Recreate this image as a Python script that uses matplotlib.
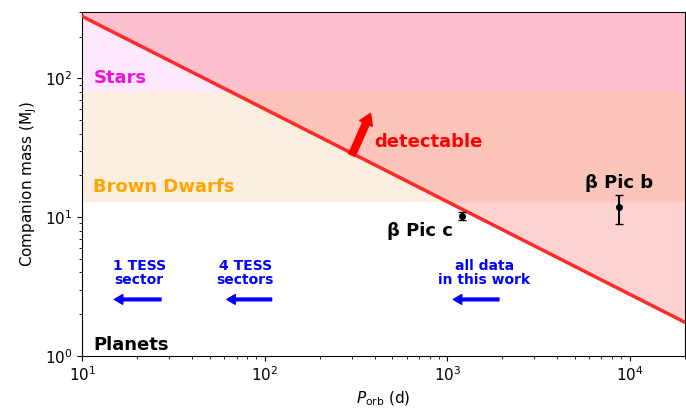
import numpy as np
import matplotlib
matplotlib.use("Agg")
import matplotlib.pyplot as plt

# detection limit line endpoints
lim_p = [10, 2e4]
lim_m = [280, 1.75]

# companions
names = ["β Pic c", "β Pic b"]
per = [1200, 8700]
mass = [10.2, 11.8]
m_lo = [0.7, 2.9]
m_hi = [0.7, 2.7]

# sensitivity arrows (start, end)
arr_labels = ["1 TESS\nsector", "4 TESS\nsectors", "all data\nin this work"]
arr_start = [27, 109, 1920]
arr_end = [15, 62, 1080]
arr_x_txt = [20.5, 78, 1600]

fig, ax = plt.subplots(figsize=(6.86, 4.09), dpi=100)
ax.set_xscale("log")
ax.set_yscale("log")
ax.set_xlim(10, 2e4)
ax.set_ylim(1, 300)

ax.axhspan(80, 300, color="#fde8fc", zorder=0)
ax.axhspan(13, 80, color="#fdefe0", zorder=0)

xx = np.array(lim_p)
ax.plot(xx, lim_m, color="#ff2a2a", lw=2.5, zorder=3)
ax.fill_between(xx, lim_m, [300, 300], color="#ff3333", alpha=0.22, lw=0, zorder=1)

ax.text(11.5, 100, "Stars", color="#ee11dd", fontsize=13, fontweight="bold", va="center")
ax.text(11.5, 16.5, "Brown Dwarfs", color="#ffa500", fontsize=13, fontweight="bold", va="center")
ax.text(11.5, 1.2, "Planets", color="black", fontsize=13, fontweight="bold", va="center")

ax.annotate("", xy=(380, 56), xytext=(300, 28),
            arrowprops=dict(color="#ff0000", width=5, headwidth=10, headlength=8), zorder=4)
ax.text(400, 35, "detectable", color="#ff0000", fontsize=13, fontweight="bold", va="center")

ax.errorbar(per, mass, yerr=[m_lo, m_hi], fmt="o", color="black", ms=4, capsize=3, zorder=5)
ax.text(1080, 8.0, names[0], fontsize=13, fontweight="bold", ha="right", va="center")
ax.text(8700, 17.5, names[1], fontsize=13, fontweight="bold", ha="center", va="center")

for lab, s, e, xt in zip(arr_labels, arr_start, arr_end, arr_x_txt):
    ax.annotate("", xy=(e, 2.55), xytext=(s, 2.55),
                arrowprops=dict(color="blue", width=2, headwidth=7, headlength=6))
    ax.text(xt, 3.15, lab, color="blue", fontsize=10, fontweight="bold", ha="center", va="bottom", linespacing=1.0)

ax.set_xlabel(r"$P_{\rm orb}$ (d)", fontsize=11)
ax.set_ylabel(r"Companion mass (M$_{\rm J}$)", fontsize=11)
ax.tick_params(labelsize=11)
fig.subplots_adjust(left=0.12, right=0.998, top=0.97, bottom=0.13)
fig.savefig("out.png")
